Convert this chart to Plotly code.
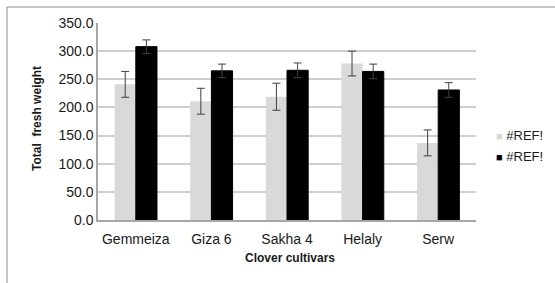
import plotly.graph_objects as go

categories = ["Gemmeiza", "Giza 6", "Sakha 4", "Helaly", "Serw"]
series1_name = "#REF!"
series2_name = "#REF!"
series1_values = [241, 211, 219, 278, 137]
series1_err = [23, 23, 24, 22, 23]
series2_values = [308, 265, 266, 264, 231]
series2_err = [12, 12, 13, 13, 13]
y_ticks = [0, 50, 100, 150, 200, 250, 300, 350]

light = "#d9d9d9"
dark = "#000000"
errc = "#404040"

fig = go.Figure()
fig.add_trace(go.Bar(
    x=categories, y=series1_values, name=series1_name,
    marker=dict(color=light, line=dict(width=0)),
    error_y=dict(type="data", array=series1_err, color=errc, thickness=1, width=4),
    showlegend=False,
))
fig.add_trace(go.Bar(
    x=categories, y=series2_values, name=series2_name,
    marker=dict(color=dark, line=dict(color="#000000", width=1)),
    error_y=dict(type="data", array=series2_err, color=errc, thickness=1, width=4),
    showlegend=False,
))

L, T = 98, 23
W, H = 378, 197
px = lambda p: (p - L) / W
py = lambda p: (T + H - p) / H

annotations = [
    dict(text="<b>Total  fresh weight</b>", xref="paper", yref="paper",
         x=px(37), y=py(119), textangle=-90, showarrow=False,
         xanchor="center", yanchor="middle", font=dict(size=12, color="#1a1a1a")),
    dict(text="<b>Clover cultivars</b>", xref="paper", yref="paper",
         x=px(290), y=py(258), showarrow=False,
         xanchor="center", yanchor="middle", font=dict(size=12, color="#1a1a1a")),
]
for name, col, yy in [(series1_name, light, 135), (series2_name, dark, 156)]:
    annotations.append(dict(
        text=f"<span style='color:{col};font-size:11px'>■</span> {name}",
        xref="paper", yref="paper", x=px(494), y=py(yy), showarrow=False,
        xanchor="left", yanchor="middle", font=dict(size=13, color="#1a1a1a")))

fig.update_layout(
    width=555, height=283,
    margin=dict(l=L, r=555 - L - W, t=T, b=283 - T - H),
    paper_bgcolor="white", plot_bgcolor="white",
    barmode="group", bargap=0.44, bargroupgap=0,
    font=dict(family="Liberation Sans, Arial", color="#1a1a1a"),
    showlegend=False,
    xaxis=dict(
        automargin=False,
        showline=True, linecolor="#a6a6a6", linewidth=1.5,
        tickfont=dict(size=14), ticks="", ticklabelstandoff=5,
    ),
    yaxis=dict(
        automargin=False,
        range=[0, 350], tickvals=y_ticks, tickformat=".1f",
        showline=True, linecolor="#a6a6a6", linewidth=1.5,
        showgrid=True, gridcolor="#cfcfcf", gridwidth=1.5,
        zeroline=False,
        tickfont=dict(size=14), ticks="",
    ),
    annotations=annotations,
    shapes=[
        dict(type="line", xref="paper", yref="paper", x0=px(7), x1=px(560),
             y0=py(7), y1=py(7), line=dict(color="#8c8c8c", width=1)),
        dict(type="line", xref="paper", yref="paper", x0=px(7), x1=px(7),
             y0=py(7), y1=py(290), line=dict(color="#8c8c8c", width=1)),
    ],
)

fig.write_html("out.html", config={"displayModeBar": False},
               post_script="document.body.style.margin='0';")
